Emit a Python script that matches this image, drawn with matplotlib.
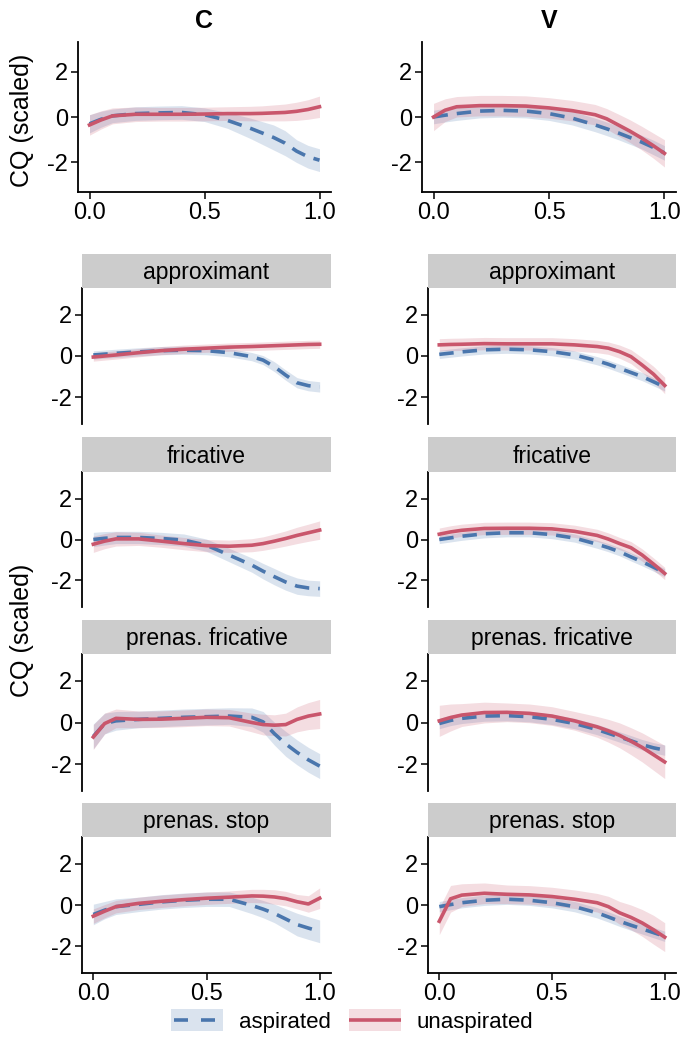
import numpy as np
import matplotlib
matplotlib.use("Agg")
import matplotlib.pyplot as plt
from matplotlib.patches import Patch, Rectangle
from matplotlib.lines import Line2D
from matplotlib.legend_handler import HandlerBase

plt.rcParams['font.family'] = ['Liberation Sans', 'DejaVu Sans']

# ── Data ───────────────────────────────────────────────────────────────────────
X = [0, .05, .1, .2, .3, .4, .5, .6, .7, .75, .8, .85, .9, .95, 1.0]

positions = ["C", "V"]
manners = ["approximant", "fricative", "prenas. fricative", "prenas. stop"]

# overall panels (top row)
all_c_unasp    = [-0.35, -0.13, 0.05, 0.12, 0.12, 0.12, 0.13, 0.15, 0.15, 0.16, 0.18, 0.2, 0.25, 0.33, 0.45]
all_c_unasp_se = [0.45, 0.4, 0.35, 0.32, 0.3, 0.3, 0.3, 0.3, 0.32, 0.33, 0.35, 0.37, 0.4, 0.43, 0.47]
all_c_asp      = [-0.3, -0.1, 0.05, 0.15, 0.18, 0.2, 0.1, -0.15, -0.5, -0.7, -0.9, -1.15, -1.5, -1.75, -1.9]
all_c_asp_se   = [0.4, 0.35, 0.3, 0.3, 0.3, 0.3, 0.3, 0.35, 0.45, 0.5, 0.55, 0.55, 0.5, 0.5, 0.5]
all_v_unasp    = [0.0, 0.3, 0.45, 0.5, 0.5, 0.48, 0.4, 0.28, 0.1, -0.08, -0.35, -0.62, -0.92, -1.25, -1.6]
all_v_unasp_se = [0.6, 0.5, 0.45, 0.45, 0.45, 0.45, 0.45, 0.45, 0.45, 0.45, 0.48, 0.5, 0.52, 0.55, 0.6]
all_v_asp      = [0.0, 0.08, 0.15, 0.26, 0.29, 0.26, 0.15, -0.05, -0.35, -0.52, -0.7, -0.9, -1.1, -1.33, -1.58]
all_v_asp_se   = [0.3, 0.3, 0.3, 0.3, 0.3, 0.3, 0.3, 0.3, 0.3, 0.3, 0.3, 0.3, 0.3, 0.32, 0.32]

# approximant
apx_c_unasp    = [-0.05, 0.0, 0.05, 0.16, 0.26, 0.33, 0.38, 0.43, 0.46, 0.48, 0.5, 0.52, 0.54, 0.56, 0.57]
apx_c_unasp_se = [0.2] * 15
apx_c_asp      = [0.05, 0.09, 0.13, 0.2, 0.26, 0.28, 0.26, 0.16, -0.03, -0.2, -0.52, -0.93, -1.3, -1.44, -1.5]
apx_c_asp_se   = [0.2, 0.2, 0.2, 0.2, 0.2, 0.2, 0.2, 0.2, 0.2, 0.22, 0.24, 0.25, 0.25, 0.25, 0.25]
apx_v_unasp    = [0.54, 0.56, 0.57, 0.6, 0.59, 0.59, 0.59, 0.54, 0.46, 0.38, 0.21, -0.03, -0.44, -0.88, -1.43]
apx_v_unasp_se = [0.3, 0.3, 0.3, 0.3, 0.3, 0.3, 0.3, 0.3, 0.3, 0.3, 0.32, 0.34, 0.36, 0.38, 0.4]
apx_v_asp      = [0.08, 0.14, 0.2, 0.3, 0.33, 0.3, 0.21, 0.05, -0.23, -0.4, -0.6, -0.8, -1.0, -1.25, -1.5]
apx_v_asp_se   = [0.2] * 15

# fricative
fri_c_unasp    = [-0.23, -0.08, 0.03, 0.03, -0.08, -0.2, -0.3, -0.33, -0.28, -0.2, -0.08, 0.05, 0.2, 0.33, 0.46]
fri_c_unasp_se = [0.4, 0.37, 0.35, 0.32, 0.3, 0.3, 0.3, 0.3, 0.32, 0.33, 0.35, 0.37, 0.4, 0.42, 0.45]
fri_c_asp      = [0.0, 0.06, 0.1, 0.1, 0.05, -0.03, -0.28, -0.76, -1.25, -1.55, -1.82, -2.08, -2.28, -2.37, -2.4]
fri_c_asp_se   = [0.35, 0.33, 0.3, 0.3, 0.3, 0.3, 0.3, 0.33, 0.35, 0.38, 0.4, 0.4, 0.4, 0.38, 0.38]
fri_v_unasp    = [0.26, 0.37, 0.45, 0.54, 0.55, 0.55, 0.52, 0.4, 0.2, 0.02, -0.2, -0.4, -0.76, -1.2, -1.66]
fri_v_unasp_se = [0.3] * 15
fri_v_asp      = [0.0, 0.08, 0.16, 0.28, 0.33, 0.33, 0.24, 0.07, -0.23, -0.4, -0.6, -0.85, -1.09, -1.35, -1.63]
fri_v_asp_se   = [0.2] * 15

# prenasalised fricative
pfr_c_unasp    = [-0.7, -0.05, 0.2, 0.15, 0.16, 0.2, 0.25, 0.23, 0.0, -0.1, -0.13, -0.1, 0.15, 0.31, 0.41]
pfr_c_unasp_se = [0.6, 0.5, 0.45, 0.4, 0.4, 0.4, 0.4, 0.4, 0.45, 0.5, 0.5, 0.55, 0.6, 0.65, 0.7]
pfr_c_asp      = [-0.67, -0.05, 0.08, 0.15, 0.2, 0.25, 0.28, 0.31, 0.25, 0.03, -0.54, -1.03, -1.44, -1.8, -2.1]
pfr_c_asp_se   = [0.6, 0.5, 0.45, 0.4, 0.4, 0.4, 0.4, 0.4, 0.45, 0.5, 0.55, 0.6, 0.6, 0.6, 0.6]
pfr_v_unasp    = [0.08, 0.24, 0.36, 0.48, 0.49, 0.44, 0.31, 0.08, -0.21, -0.4, -0.62, -0.9, -1.2, -1.55, -1.9]
pfr_v_unasp_se = [0.75, 0.65, 0.55, 0.5, 0.45, 0.45, 0.45, 0.45, 0.5, 0.55, 0.6, 0.65, 0.7, 0.75, 0.8]
pfr_v_asp      = [-0.05, 0.1, 0.2, 0.31, 0.33, 0.28, 0.15, -0.05, -0.34, -0.52, -0.7, -0.88, -1.07, -1.22, -1.33]
pfr_v_asp_se   = [0.25] * 15

# prenasalised stop
pst_c_unasp    = [-0.54, -0.3, -0.08, 0.08, 0.18, 0.26, 0.33, 0.38, 0.44, 0.43, 0.39, 0.31, 0.16, 0.05, 0.33]
pst_c_unasp_se = [0.35, 0.32, 0.3, 0.3, 0.3, 0.3, 0.3, 0.3, 0.32, 0.33, 0.35, 0.35, 0.35, 0.4, 0.5]
pst_c_asp      = [-0.46, -0.25, -0.08, 0.03, 0.15, 0.23, 0.28, 0.28, -0.02, -0.2, -0.41, -0.68, -0.95, -1.12, -1.28]
pst_c_asp_se   = [0.5, 0.42, 0.38, 0.35, 0.35, 0.35, 0.35, 0.35, 0.4, 0.42, 0.45, 0.5, 0.55, 0.55, 0.55]
pst_v_unasp    = [-0.79, 0.3, 0.48, 0.57, 0.52, 0.49, 0.41, 0.28, 0.11, -0.08, -0.38, -0.6, -0.87, -1.2, -1.56]
pst_v_unasp_se = [0.65, 0.65, 0.55, 0.5, 0.45, 0.45, 0.45, 0.45, 0.45, 0.5, 0.55, 0.6, 0.65, 0.7, 0.7]
pst_v_asp      = [-0.08, 0.02, 0.11, 0.23, 0.28, 0.23, 0.11, -0.08, -0.38, -0.58, -0.79, -0.98, -1.16, -1.34, -1.52]
pst_v_asp_se   = [0.25] * 15

overall = {
    "C": (all_c_asp, all_c_asp_se, all_c_unasp, all_c_unasp_se),
    "V": (all_v_asp, all_v_asp_se, all_v_unasp, all_v_unasp_se),
}
by_manner = {
    ("approximant", "C"): (apx_c_asp, apx_c_asp_se, apx_c_unasp, apx_c_unasp_se),
    ("approximant", "V"): (apx_v_asp, apx_v_asp_se, apx_v_unasp, apx_v_unasp_se),
    ("fricative", "C"): (fri_c_asp, fri_c_asp_se, fri_c_unasp, fri_c_unasp_se),
    ("fricative", "V"): (fri_v_asp, fri_v_asp_se, fri_v_unasp, fri_v_unasp_se),
    ("prenas. fricative", "C"): (pfr_c_asp, pfr_c_asp_se, pfr_c_unasp, pfr_c_unasp_se),
    ("prenas. fricative", "V"): (pfr_v_asp, pfr_v_asp_se, pfr_v_unasp, pfr_v_unasp_se),
    ("prenas. stop", "C"): (pst_c_asp, pst_c_asp_se, pst_c_unasp, pst_c_unasp_se),
    ("prenas. stop", "V"): (pst_v_asp, pst_v_asp_se, pst_v_unasp, pst_v_unasp_se),
}

# ── Styling ────────────────────────────────────────────────────────────────────
BLUE = "#4a76ad"
RED = "#c9566c"
LW = 2.6
DASH = (4, 2.5)
TICK_FS = 17
STRIP_FS = 16.5
LAB_FS = 18
W, H = 683, 1044

fig = plt.figure(figsize=(W / 100, H / 100), dpi=100)


def px_axes(left, top, right, bottom):
    return fig.add_axes([left / W, 1 - bottom / H, (right - left) / W, (bottom - top) / H])


def draw(ax, series, show_x):
    asp, asp_se, un, un_se = [np.array(s) for s in series]
    x = np.array(X)
    ax.fill_between(x, asp - asp_se, asp + asp_se, color=BLUE, alpha=0.2, lw=0)
    ax.fill_between(x, un - un_se, un + un_se, color=RED, alpha=0.2, lw=0)
    ax.plot(x, asp, color=BLUE, lw=LW, dashes=DASH)
    ax.plot(x, un, color=RED, lw=LW)
    ax.set_xlim(-0.05, 1.05)
    ax.set_ylim(-3.3, 3.3)
    ax.set_yticks([-2, 0, 2])
    ax.set_yticklabels(["-2", "0", "2"])
    ax.set_xticks([0, 0.5, 1.0])
    ax.set_xticklabels(["0.0", "0.5", "1.0"])
    ax.tick_params(labelsize=TICK_FS, length=5, width=1.1, pad=2, colors="black")
    for s in ["top", "right"]:
        ax.spines[s].set_visible(False)
    ax.spines["left"].set_linewidth(1.3)
    ax.spines["bottom"].set_linewidth(1.3)
    if not show_x:
        ax.spines["bottom"].set_visible(False)
        ax.tick_params(axis="x", bottom=False, labelbottom=False)


# top row: overall
top_cols = {"C": (78, 331), "V": (422, 676)}
for pos in positions:
    l, r = top_cols[pos]
    ax = px_axes(l, 42, r, 192)
    draw(ax, overall[pos], True)
    ax.set_title(pos, fontsize=LAB_FS, fontweight="bold", pad=10)

fig.text(22 / W, 1 - 120 / H, "CQ (scaled)", rotation=90, fontsize=LAB_FS,
         ha="center", va="center")

# faceted rows
facet_cols = {"C": (82, 331), "V": (428, 676)}
strips = [254, 437, 620, 803]
panels = [(288, 424), (472, 607), (654, 791), (837, 973)]
for i, man in enumerate(manners):
    for pos in positions:
        l, r = facet_cols[pos]
        t, b = panels[i]
        ax = px_axes(l, t, r, b)
        draw(ax, by_manner[(man, pos)], i == len(manners) - 1)
        sax = px_axes(l, strips[i], r, t)
        sax.add_patch(Rectangle((0, 0), 1, 1, color="#cccccc", transform=sax.transAxes))
        sax.text(0.5, 0.45, man, fontsize=STRIP_FS, ha="center", va="center")
        sax.set_axis_off()

fig.text(22 / W, 1 - 630 / H, "CQ (scaled)", rotation=90, fontsize=LAB_FS,
         ha="center", va="center")


# legend: shaded key with line on top
class RibbonHandler(HandlerBase):
    def __init__(self, color, dashed):
        super().__init__()
        self.color = color
        self.dashed = dashed

    def create_artists(self, legend, orig_handle, xdescent, ydescent, width, height,
                       fontsize, trans):
        x0, y0 = -xdescent, -ydescent
        rect = Rectangle((x0, y0), width, height, facecolor=self.color, alpha=0.2,
                         lw=0, transform=trans)
        ym = y0 + height / 2
        if self.dashed:
            pieces = [(0.06, 0.33), (0.58, 0.85)]
        else:
            pieces = [(0.0, 1.0)]
        lines = [Line2D([x0 + a * width, x0 + b * width], [ym, ym], color=self.color,
                        lw=LW, solid_capstyle="butt", transform=trans)
                 for a, b in pieces]
        return [rect] + lines


h_asp = Patch(color=BLUE)
h_un = Patch(color=RED)
fig.legend([h_asp, h_un], ["aspirated", "unaspirated"], loc="center",
           bbox_to_anchor=(352 / W, 1 - 1021 / H), ncol=2, frameon=False, fontsize=16,
           handler_map={h_asp: RibbonHandler(BLUE, True), h_un: RibbonHandler(RED, False)},
           handlelength=2.35, handleheight=1.1, columnspacing=0.8, handletextpad=0.7)

fig.savefig("out.png", dpi=100)
